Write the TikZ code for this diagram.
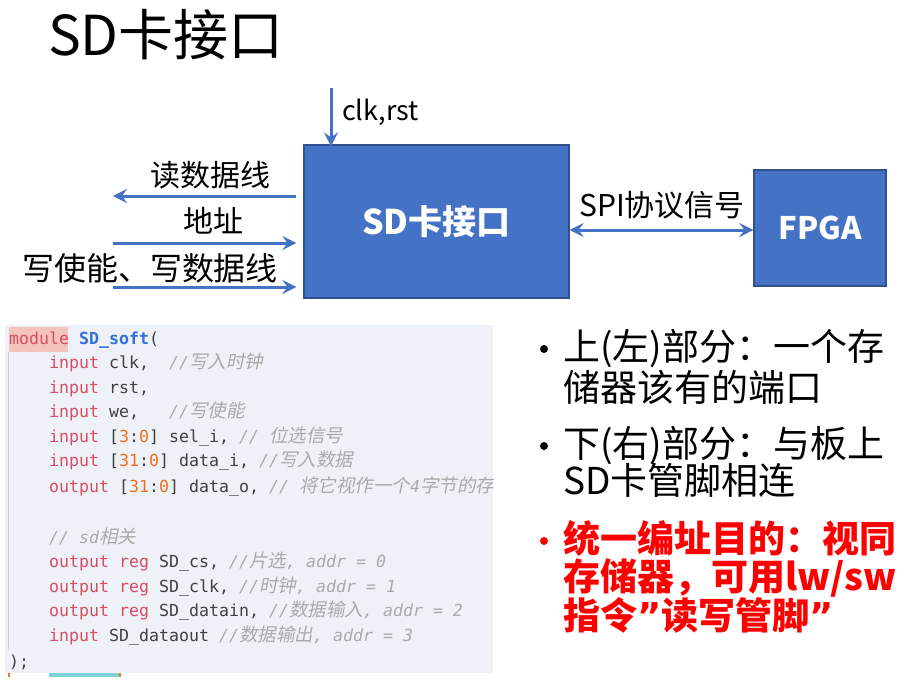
\documentclass[tikz,border=0pt]{standalone}
\usepackage{fontspec}
\setmainfont{Noto Sans CJK SC}
\newfontfamily\codefont{DejaVu Sans Mono}
\newfontfamily\quotefont{DejaVu Sans}
\newfontfamily\cjkslant[FakeSlant=0.2]{Noto Sans CJK SC}
\usetikzlibrary{arrows.meta}
\usetikzlibrary{positioning}

\definecolor{boxblue}{RGB}{68,114,196}
\definecolor{boxedge}{RGB}{47,82,143}
\definecolor{codebg}{RGB}{238,241,247}
\definecolor{kwred}{RGB}{214,78,98}
\definecolor{numorange}{RGB}{240,110,30}
\definecolor{idgrey}{RGB}{64,64,64}
\definecolor{cmgrey}{RGB}{170,170,170}
\definecolor{nameblue}{RGB}{50,110,220}
\definecolor{modbg}{RGB}{244,196,186}
\definecolor{barteal}{RGB}{125,210,215}
\definecolor{barorange}{RGB}{240,120,40}

\newcommand{\pxfont}[1]{\fontsize{#1}{#1}\selectfont}
\newcommand{\kw}[1]{\textcolor{kwred}{#1}}
\newcommand{\nm}[1]{\textcolor{numorange}{#1}}
\newcommand{\zh}[1]{{\cjkslant\fontsize{18.5}{20}\selectfont #1}}
\newcommand{\cm}[1]{{\color{cmgrey}\itshape #1}}
\newcommand{\closeq}{{\quotefont ”}}

\begin{document}
\begin{tikzpicture}[
  x=1pt, y=-1pt,
  blockbox/.style={draw=boxedge, line width=1.2pt, fill=boxblue, text=white,
    font=\bfseries\pxfont{34}, inner sep=0},
  sig/.style={draw=boxblue, line width=3pt, -{Stealth[length=14pt,width=14pt,inset=5pt]}},
  lbl/.style={inner sep=0, font=\pxfont{30}},
  code/.style={anchor=base west, inner sep=0, text=idgrey, text height=13, text depth=4,
    font=\codefont\fontsize{16.6}{20}\selectfont},
  bul/.style={anchor=base west, inner sep=0, font=\pxfont{37}},
  redbul/.style={anchor=base west, inner sep=0, text=red, font=\bfseries\pxfont{37}},
  dot/.style={circle, fill, inner sep=0, minimum size=8}
]
\useasboundingbox[fill=white] (0,0) rectangle (918,683);

% title
\node[anchor=base west, inner sep=0, font=\pxfont{55}] (title) at (48,55) {SD卡接口};

% blocks
\node[blockbox, minimum width=265, minimum height=153] (sdif) at (436.5,221.5) {SD卡接口};
\node[blockbox, minimum width=132, minimum height=116, font=\bfseries\pxfont{31}] (fpga) at (820,228) {FPGA};

% signals
\coordinate (clkin) at (331,88);
\coordinate (rdout) at (113,196);
\coordinate (addrin) at (113,243);
\coordinate (wrin) at (113,287);
\coordinate (spiy) at (660,230);

\draw[sig] (clkin) -- ([yshift=-2]clkin |- sdif.north);
\draw[sig] ([xshift=-7]sdif.west |- rdout) -- (rdout);
\draw[sig] (addrin) -- ([xshift=-7]sdif.west |- addrin);
\draw[sig] (wrin) -- ([xshift=-7]sdif.west |- wrin);
\draw[sig, {Stealth[length=14pt,width=14pt,inset=5pt]}-{Stealth[length=14pt,width=14pt,inset=5pt]}]
  (sdif.east |- spiy) -- (fpga.west |- spiy);

\node[lbl, anchor=west, font=\pxfont{27}] (clklbl) at (342,112) {clk,rst};
\node[lbl] (rdlbl) at (210,175) {读数据线};
\node[lbl] (addrlbl) at (213,221) {地址};
\node[lbl, font=\pxfont{32}] (wrlbl) at (150,268) {写使能、写数据线};
\node[lbl] (spilbl) at (662,205) {SPI协议信号};

% code panel
\fill[codebg] (5,325) rectangle (493,673);
\fill[modbg] (9,327) rectangle (68,352);
\draw[black!20, line width=1pt] (8,352) -- (8,650);
\fill[barteal] (49,673) rectangle (119,677);
\fill[barorange] (119,673) rectangle (121,677);
\fill[barorange] (8,673) rectangle (10,677);
\begin{scope}
\clip (5,325) rectangle (493,673);
\node[code] (c1) at (9,344) {\kw{module} \textcolor{nameblue}{\bfseries SD\_soft}(};
\node[code] (c2) at (49,368) {\kw{input} clk,~~\cm{//\zh{写入时钟}}};
\node[code] (c3) at (49,393) {\kw{input} rst,};
\node[code] (c4) at (49,417) {\kw{input} we,~~~\cm{//\zh{写使能}}};
\node[code] (c5) at (49,442) {\kw{input} [\nm{3}:\nm{0}] sel\_i, \cm{// \zh{位选信号}}};
\node[code] (c6) at (49,466) {\kw{input} [\nm{31}:\nm{0}] data\_i, \cm{//\zh{写入数据}}};
\node[code] (c7) at (49,492) {\kw{output} [\nm{31}:\nm{0}] data\_o, \cm{// \zh{将它视作一个}4\zh{字节的存储器}}};
\node[code] (c9) at (49,543) {\cm{// sd\zh{相关}}};
\node[code] (c10) at (49,567) {\kw{output} \kw{reg} SD\_cs, \cm{//\zh{片选}, addr = 0}};
\node[code] (c11) at (49,592) {\kw{output} \kw{reg} SD\_clk, \cm{//\zh{时钟}, addr = 1}};
\node[code] (c12) at (49,616) {\kw{output} \kw{reg} SD\_datain, \cm{//\zh{数据输入}, addr = 2}};
\node[code] (c13) at (49,641) {\kw{input} SD\_dataout \cm{//\zh{数据输出}, addr = 3}};
\node[code] (c14) at (9,667) {);};
\end{scope}

% bullets
\node[dot] (d1) at (544,349) {};
\node[bul] (b1a) at (563,360) {上(左)部分：一个存};
\node[bul] (b1b) at (563,401) {储器该有的端口};
\node[dot] (d2) at (544,446) {};
\node[bul] (b2a) at (563,457) {下(右)部分：与板上};
\node[bul] (b2b) at (563,494) {SD卡管脚相连};
\node[dot, red] (d3) at (544,541) {};
\node[redbul] (b3a) at (563,552) {统一编址目的：视同};
\node[redbul] (b3b) at (563,590) {存储器，可用lw/sw};
\node[redbul] (b3c) at (563,629) {指令\closeq 读写管脚\closeq};
\end{tikzpicture}
\end{document}
